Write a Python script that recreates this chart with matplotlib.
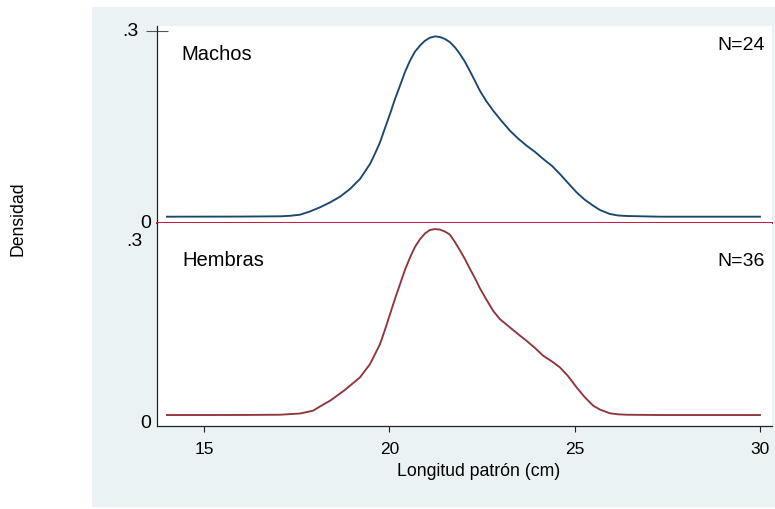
import matplotlib.pyplot as plt
from matplotlib.patches import Rectangle
from matplotlib import transforms

plt.rcParams['font.family'] = ['Liberation Sans', 'DejaVu Sans']

# Kernel density estimates of standard length, read off at a set of lengths (cm)
longitud_machos = [14.0, 16.0, 17.05, 17.32, 17.59, 17.86, 18.13, 18.40, 18.67, 18.94,
                   19.21, 19.48, 19.61, 19.75, 19.88, 20.02, 20.15, 20.29, 20.42, 20.56,
                   20.69, 20.83, 20.96, 21.09, 21.23, 21.36, 21.50, 21.63, 21.77, 21.90,
                   22.04, 22.17, 22.35, 22.44, 22.61, 22.80, 22.98, 23.25, 23.47, 23.70,
                   23.93, 24.15, 24.39, 24.60, 24.82, 25.05, 25.28, 25.50, 25.68, 25.95,
                   26.17, 26.40, 27.30, 30.0]
densidad_machos = [0.0094, 0.0096, 0.0100, 0.0108, 0.0125, 0.0176, 0.0241, 0.0317, 0.0407, 0.0528,
                   0.0685, 0.0920, 0.1077, 0.1260, 0.1476, 0.1703, 0.1931, 0.2147, 0.2354, 0.2539,
                   0.2675, 0.2774, 0.2847, 0.2894, 0.2915, 0.2907, 0.2875, 0.2827, 0.2745, 0.2644,
                   0.2518, 0.2377, 0.2173, 0.2068, 0.1907, 0.1755, 0.1625, 0.1442, 0.1319, 0.1207,
                   0.1108, 0.0998, 0.0888, 0.0763, 0.0622, 0.0476, 0.0356, 0.0266, 0.0199, 0.0136,
                   0.0113, 0.0105, 0.0094, 0.0094]

longitud_hembras = [14.0, 16.0, 17.05, 17.59, 17.94, 18.13, 18.40, 18.80, 19.21, 19.48,
                    19.75, 19.88, 20.02, 20.15, 20.29, 20.42, 20.56, 20.69, 20.83, 20.96,
                    21.09, 21.23, 21.36, 21.50, 21.63, 21.77, 21.90, 22.04, 22.17, 22.35,
                    22.44, 22.61, 22.80, 22.98, 23.25, 23.47, 23.70, 23.93, 24.15, 24.39,
                    24.60, 24.82, 25.05, 25.28, 25.50, 25.68, 25.95, 26.17, 26.40, 27.30,
                    30.0]
densidad_hembras = [0.0120, 0.0121, 0.0125, 0.0145, 0.0191, 0.0261, 0.0356, 0.0533, 0.0743, 0.0962,
                    0.1292, 0.1523, 0.1787, 0.2034, 0.2282, 0.2513, 0.2723, 0.2892, 0.3024, 0.3115,
                    0.3173, 0.3189, 0.3181, 0.3148, 0.3099, 0.2975, 0.2843, 0.2694, 0.2538, 0.2331,
                    0.2216, 0.2034, 0.1841, 0.1704, 0.1568, 0.1457, 0.1346, 0.1226, 0.1099, 0.1003,
                    0.0908, 0.0764, 0.0578, 0.0409, 0.0274, 0.0211, 0.0149, 0.0132, 0.0125, 0.0120,
                    0.0120]

grupos = ['Machos', 'Hembras']
n_obs = [24, 36]
x_ticks = [15, 20, 25, 30]
y_ticks = [0, 0.3]
y_tick_labels = ['0', '.3']

W, H = 775, 510
fig = plt.figure(figsize=(W / 100, H / 100), dpi=100)
fig.patch.set_facecolor('white')

# Stata-like graph region, behind both panels
fig.patches.append(Rectangle((92 / W, 2 / H), (W - 92) / W, 500 / H,
                             transform=fig.transFigure, facecolor='#eaf2f3',
                             edgecolor='none', zorder=-10))


def px_box(left, top, right, bottom):
    return [left / W, (H - bottom) / H, (right - left) / W, (bottom - top) / H]


ax_top = fig.add_axes(px_box(157, 27, 772, 223.7))
ax_bot = fig.add_axes(px_box(157, 223.7, 772, 427))

xlim = (13.732, 30.324)
ax_top.set_ylim(0, 0.3078)
ax_bot.set_ylim(-0.0061, 0.3294)

ax_top.plot(longitud_machos, densidad_machos, color='#1a476f', lw=1.35,
            solid_joinstyle='round')
ax_bot.plot(longitud_hembras, densidad_hembras, color='#90353b', lw=1.35,
            solid_joinstyle='round')
ax_top.axhline(0, color='#c8143c', lw=1.4, clip_on=False, zorder=5)

axis_col = '#222222'
for ax in (ax_top, ax_bot):
    ax.set_xlim(*xlim)
    ax.set_facecolor('white')
    for side in ('top', 'right', 'bottom'):
        ax.spines[side].set_visible(False)
    ax.spines['left'].set_color(axis_col)
    ax.spines['left'].set_linewidth(0.9)
    ax.set_yticks([])

ax_bot.spines['bottom'].set_visible(True)
ax_bot.spines['bottom'].set_color(axis_col)
ax_bot.spines['bottom'].set_linewidth(0.9)
ax_top.set_xticks([])
ax_bot.set_xticks(x_ticks)
ax_bot.tick_params(axis='x', direction='out', length=4.5, width=0.8, color=axis_col,
                   pad=6, labelsize=12.5, labelcolor='black')

# top panel keeps a single tick at .3 crossing the axis
ax_top.set_yticks([0.3])
ax_top.set_yticklabels([''])
ax_top.tick_params(axis='y', direction='inout', length=16, width=0.8, color='#555555')

# y value labels placed at their data positions
label_dx = {'0': -6, '.3': -14}
for ax, extra in ((ax_top, {'.3': -18}), (ax_bot, {})):
    for val, lab in zip(y_ticks, y_tick_labels):
        dx = extra.get(lab, label_dx[lab])
        tr = transforms.blended_transform_factory(ax.transAxes, ax.transData)
        tr = tr + transforms.ScaledTranslation(dx / 100, 0, fig.dpi_scale_trans)
        ax.text(0, val, lab, transform=tr, ha='right', va='center', fontsize=14)

ax_top.text(0.040, 0.832, grupos[0], transform=ax_top.transAxes, fontsize=14.5,
            ha='left', va='baseline')
ax_top.text(0.9886, 0.883, f'N={n_obs[0]}', transform=ax_top.transAxes, fontsize=14,
            ha='right', va='baseline')
ax_bot.text(0.0418, 0.792, grupos[1], transform=ax_bot.transAxes, fontsize=14.5,
            ha='left', va='baseline')
ax_bot.text(0.9886, 0.792, f'N={n_obs[1]}', transform=ax_bot.transAxes, fontsize=14,
            ha='right', va='baseline')

fig.text(478.7 / W, 1 - 471.7 / H, 'Longitud patrón (cm)', ha='center', va='center',
         fontsize=12.7)
fig.text(18.3 / W, 1 - 218.8 / H, 'Densidad', ha='center', va='center',
         rotation=90, fontsize=12.7)

fig.savefig('out.png', dpi=100)
